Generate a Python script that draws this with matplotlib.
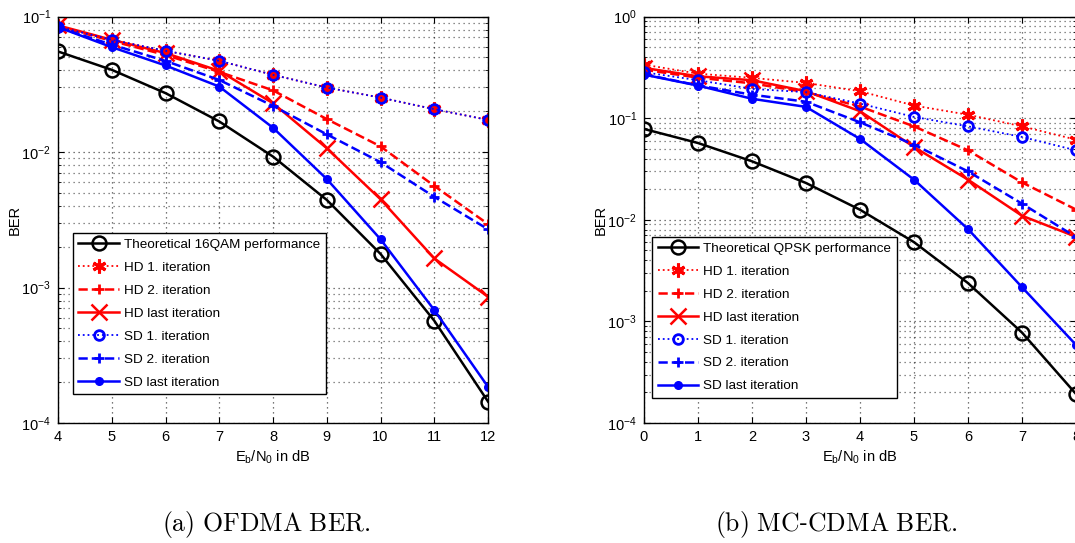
# -*- coding: utf-8 -*-
# Curvas de BER: OFDMA (a) e MC-CDMA (b)

import matplotlib
matplotlib.use('Agg')
import matplotlib.pyplot as plt
from matplotlib.ticker import LogLocator, NullFormatter

# ---------------------------------------------------------------
# DADOS

# (a) OFDMA
ebn0_a = [4, 5, 6, 7, 8, 9, 10, 11, 12]
teo_16qam = [0.0552, 0.0404, 0.0272, 0.0168, 0.00925, 0.00443, 0.00177, 0.000569, 0.000144]
hd1_a = [0.085, 0.0673, 0.0558, 0.0471, 0.0371, 0.0299, 0.0252, 0.0207, 0.01725]
hd2_a = [0.085, 0.066, 0.052, 0.039, 0.0285, 0.0175, 0.0110, 0.00562, 0.00294]
hdlast_a = [0.086, 0.0673, 0.0537, 0.0397, 0.0229, 0.01067, 0.00448, 0.00164, 0.000855]
sd1_a = [0.084, 0.0673, 0.0558, 0.0471, 0.0371, 0.0299, 0.0252, 0.0207, 0.01725]
sd2_a = [0.083, 0.062, 0.047, 0.034, 0.0219, 0.0135, 0.00841, 0.00467, 0.00269]
sdlast_a = [0.0835, 0.0594, 0.0435, 0.0304, 0.0151, 0.00632, 0.00227, 0.000682, 0.000185]

# (b) MC-CDMA
ebn0_b = [0, 1, 2, 3, 4, 5, 6, 7, 8]
teo_qpsk = [0.0782, 0.0569, 0.0376, 0.0230, 0.01255, 0.00602, 0.00238, 0.000776, 0.000193]
hd1_b = [0.336, 0.274, 0.249, 0.222, 0.184, 0.133, 0.108, 0.083, 0.0614]
hd2_b = [0.30, 0.25, 0.22, 0.18, 0.13, 0.083, 0.0482, 0.0233, 0.0126]
hdlast_b = [0.312, 0.258, 0.236, 0.184, 0.117, 0.052, 0.0248, 0.01095, 0.0068]
sd1_b = [0.283, 0.236, 0.194, 0.180, 0.139, 0.1028, 0.083, 0.0653, 0.0482]
sd2_b = [0.27, 0.21, 0.17, 0.145, 0.091, 0.0548, 0.0299, 0.0144, 0.00676]
sdlast_b = [0.268, 0.209, 0.155, 0.129, 0.0624, 0.0248, 0.00809, 0.00217, 0.000587]

rotulos = ['HD 1. iteration', 'HD 2. iteration', 'HD last iteration',
           'SD 1. iteration', 'SD 2. iteration', 'SD last iteration']

# ---------------------------------------------------------------
# ESTILO

plt.rcParams['font.family'] = ['Liberation Sans', 'DejaVu Sans']
plt.rcParams['mathtext.fontset'] = 'custom'
plt.rcParams['mathtext.rm'] = 'Liberation Sans'
plt.rcParams['mathtext.it'] = 'Liberation Sans:italic'
plt.rcParams['font.size'] = 10
plt.rcParams['xtick.direction'] = 'in'
plt.rcParams['ytick.direction'] = 'in'
plt.rcParams['xtick.top'] = True
plt.rcParams['ytick.right'] = True

asterisco = (6, 2, 0)  # parecido com o '*' do MATLAB
pontilhado = (0, (1, 3))  # grade do MATLAB


def painel(ax, x, teo, hd1, hd2, hdl, sd1, sd2, sdl, nome_teo, xlim, ylim):
    ''' Desenha um painel completo '''
    lw = 1.8
    ax.semilogy(x, teo, 'k-o', lw=lw, ms=10, mfc='none', mew=1.8, label=nome_teo)
    ax.semilogy(x, hd1, 'r:', marker=asterisco, lw=1.3, ms=10, mew=2.2, label=rotulos[0])
    ax.semilogy(x, hd2, 'r--+', lw=lw, ms=7, mew=2, label=rotulos[1])
    ax.semilogy(x, hdl, 'r-x', lw=lw, ms=12, mew=1.8, label=rotulos[2])
    ax.semilogy(x, sd1, 'b:o', lw=1.3, ms=7, mfc='none', mew=2, label=rotulos[3])
    ax.semilogy(x, sd2, 'b--+', lw=lw, ms=7, mew=2, label=rotulos[4])
    ax.semilogy(x, sdl, 'b-', marker='.', lw=lw, ms=11, label=rotulos[5])

    ax.set_xlim(*xlim)
    ax.set_ylim(*ylim)
    ax.set_xticks(x)
    ax.yaxis.set_major_locator(LogLocator(base=10, numticks=10))
    ax.yaxis.set_minor_locator(LogLocator(base=10, subs=range(2, 10), numticks=10))
    ax.yaxis.set_minor_formatter(NullFormatter())
    ax.tick_params(which='both', labelsize=10.5, length=4, pad=5)
    ax.tick_params(which='minor', length=2.5)

    # Grade pontilhada estilo MATLAB
    ax.grid(True, which='major', ls=pontilhado, lw=0.9, color='k', alpha=0.7)
    ax.grid(True, which='minor', axis='y', ls=pontilhado, lw=0.9, color='k', alpha=0.6)
    for s in ax.spines.values():
        s.set_linewidth(1.0)

    ax.set_xlabel(r'E$_\mathrm{b}$/N$_\mathrm{0}$ in dB', fontsize=10.5, labelpad=3)
    ax.set_ylabel('BER', fontsize=10.5, labelpad=0)


def legenda(ax, ancora):
    leg = ax.legend(loc='lower left', bbox_to_anchor=ancora, fancybox=False,
                    edgecolor='k', framealpha=1, fontsize=9.7, labelspacing=0.78,
                    handlelength=3.0, handletextpad=0.4, borderpad=0.4,
                    borderaxespad=0)
    leg.get_frame().set_linewidth(1.0)


fig = plt.figure(figsize=(10.75, 5.43), dpi=100)

# (a)
ax1 = fig.add_axes([58/1075, 1 - 423/543, 430/1075, 406.5/543])
painel(ax1, ebn0_a, teo_16qam, hd1_a, hd2_a, hdlast_a, sd1_a, sd2_a, sdlast_a,
       'Theoretical 16QAM performance', (4, 12), (1e-4, 1e-1))
legenda(ax1, (0.035, 0.071))

# (b) - eixo cortado na borda direita, como na figura original
ax2 = fig.add_axes([644/1075, 1 - 423/543, 432/1075, 406.5/543])
painel(ax2, ebn0_b, teo_qpsk, hd1_b, hd2_b, hdlast_b, sd1_b, sd2_b, sdlast_b,
       'Theoretical QPSK performance', (0, 8), (1e-4, 1e0))
legenda(ax2, (0.019, 0.062))

# Legendas das subfiguras
fig.text(266/1075, 1 - 525/543, r'$\mathrm{(a)\ OFDMA\ BER.}$', math_fontfamily='cm',
         fontsize=18.5, ha='center', va='center')
fig.text(836/1075, 1 - 525/543, r'$\mathrm{(b)\ MC}$-$\mathrm{CDMA\ BER.}$', math_fontfamily='cm',
         fontsize=18.5, ha='center', va='center')

plt.savefig('out.png', dpi=100)
